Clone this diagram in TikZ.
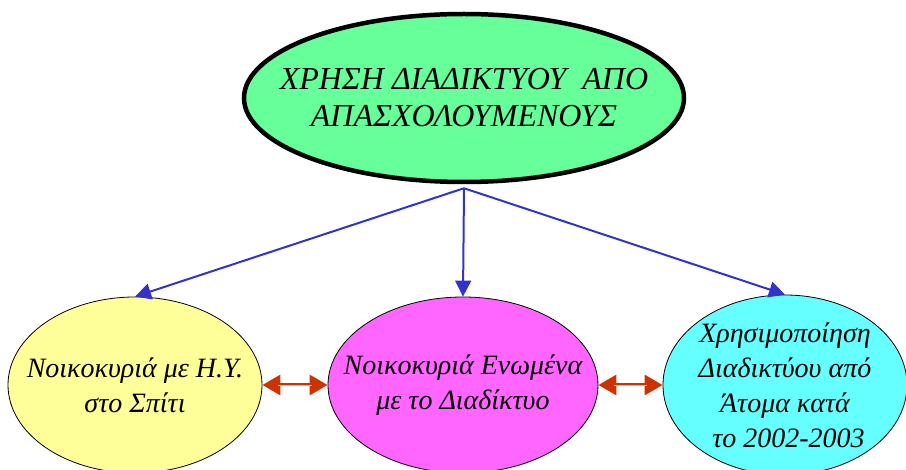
\documentclass[tikz,border=0pt]{standalone}
\usepackage{fontspec}
\setmainfont{Liberation Serif}
\usetikzlibrary{shapes.geometric, arrows.meta, positioning}

\begin{document}
\begin{tikzpicture}[
        x=1pt, y=1pt,
        bubble/.style={ellipse, draw=black, thick, inner sep=0pt},
        words/.style={align=center, inner sep=0pt, font=\itshape\fontsize{28}{35}\selectfont},
        title/.style={align=center, inner sep=0pt, font=\itshape\fontsize{32}{37}\selectfont},
        down/.style={-{Triangle[length=16pt, width=16pt]}, draw={rgb,255:red,51;green,51;blue,204}, line width=2pt},
        link/.style={{Triangle[length=18pt, width=20pt]}-{Triangle[length=18pt, width=20pt]}, draw={rgb,255:red,204;green,51;blue,0}, fill={rgb,255:red,204;green,51;blue,0}, line width=3pt}
    ]
    \useasboundingbox (0,0) rectangle (906,-470);

    \node (usage) [bubble, line width=4.5pt, fill={rgb,255:red,102;green,255;blue,153}, minimum width=440pt, minimum height=168pt,
        label={[title]center:ΧΡΗΣΗ ΔΙΑΔΙΚΤΥΟΥ \ ΑΠΟ\\ ΑΠΑΣΧΟΛΟΥΜΕΝΟΥΣ}] at (464,-98) {};
    \node (homepc) [bubble, fill={rgb,255:red,255;green,255;blue,153}, minimum width=254pt, minimum height=176pt,
        label={[words]center:Νοικοκυριά με Η.Υ.\\ στο Σπίτι}] at (135,-385) {};
    \node (homenet) [bubble, fill={rgb,255:red,255;green,102;blue,255}, minimum width=270pt, minimum height=176pt,
        label={[words]center:Νοικοκυριά Ενωμένα\\ με το Διαδίκτυο}] at (463,-385) {};
    \node (persons) [bubble, fill={rgb,255:red,102;green,255;blue,255}, minimum width=244pt, minimum height=180pt,
        label={[words]center:Χρησιμοποίηση\\ Διαδικτύου από\\ Άτομα κατά\\ \ το 2002-2003}] at (785,-385) {};

    \coordinate (fork) at ([yshift=-4pt]usage.south);
    \draw [down] (fork) -- (homepc.north);
    \draw [down] (fork) -- (homenet.north);
    \draw [down] (fork) -- (persons.north);

    \draw [link] (homepc.east) -- (homenet.west);
    \draw [link] (homenet.east) -- (persons.west);
    \draw [orange!60, line width=0.8pt] ([xshift=16pt]homepc.east) -- ([xshift=-16pt]homenet.west);
    \draw [orange!60, line width=0.8pt] ([xshift=16pt]homenet.east) -- ([xshift=-16pt]persons.west);
\end{tikzpicture}
\end{document}
